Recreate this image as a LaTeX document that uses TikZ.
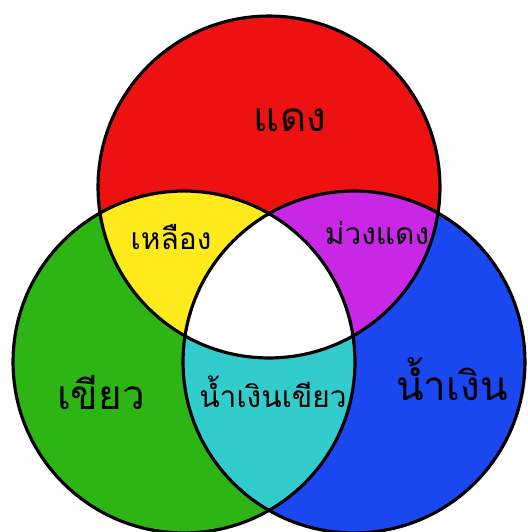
\documentclass[tikz,border=0pt]{standalone}
\usepackage{fontspec}
\usepackage{xcolor}
\usepackage{tikz}
\newfontfamily\thaifont[Script=Thai]{Loma}
\definecolor{vred}{HTML}{EE1111}
\definecolor{vgreen}{HTML}{2DB514}
\definecolor{vblue}{HTML}{1A47F0}
\definecolor{vyellow}{HTML}{FFEB1C}
\definecolor{vmagenta}{HTML}{C828E6}
\definecolor{vcyan}{HTML}{33CCCC}
\tikzset{
    ring/.style={draw=black, line width=1.8pt},
    biglabel/.style={anchor=base, font=\thaifont\fontsize{23}{23}\selectfont},
    smalllabel/.style={anchor=base, font=\thaifont\fontsize{17}{17}\selectfont}
}

\begin{document}
\begin{tikzpicture}[x=0.02cm, y=-0.02cm]
    \useasboundingbox (0,0) rectangle (528,532);
    \def\rad{3.42cm}
    % Circle centres
    \coordinate (cr) at (269,187);
    \coordinate (cg) at (184,362);
    \coordinate (cb) at (354,362);
    % Primaries
    \fill[vred] (cr) circle[radius=\rad];
    \fill[vgreen] (cg) circle[radius=\rad];
    \fill[vblue] (cb) circle[radius=\rad];
    % Red + green
    \begin{scope}
        \clip (cr) circle[radius=\rad];
        \fill[vyellow] (cg) circle[radius=\rad];
    \end{scope}
    % Red + blue
    \begin{scope}
        \clip (cr) circle[radius=\rad];
        \fill[vmagenta] (cb) circle[radius=\rad];
    \end{scope}
    % Green + blue
    \begin{scope}
        \clip (cg) circle[radius=\rad];
        \fill[vcyan] (cb) circle[radius=\rad];
    \end{scope}
    % All three
    \begin{scope}
        \clip (cr) circle[radius=\rad];
        \clip (cg) circle[radius=\rad];
        \fill[white] (cb) circle[radius=\rad];
    \end{scope}
    % Outlines
    \draw[ring] (cr) circle[radius=\rad];
    \draw[ring] (cg) circle[radius=\rad];
    \draw[ring] (cb) circle[radius=\rad];
    % Labels
    \node[biglabel] (daeng) at (290,131) {แดง};
    \node[smalllabel] (lueang) at (171,249) {เหลือง};
    \node[smalllabel] (muangdaeng) at (377,244) {ม่วงแดง};
    \node[biglabel] (khiao) at (101,409) {เขียว};
    \node[smalllabel] (namngoenkhiao) at (273,407) {น้ำเงินเขียว};
    \node[biglabel] (namngoen) at (452,400) {น้ำเงิน};
\end{tikzpicture}
\end{document}
